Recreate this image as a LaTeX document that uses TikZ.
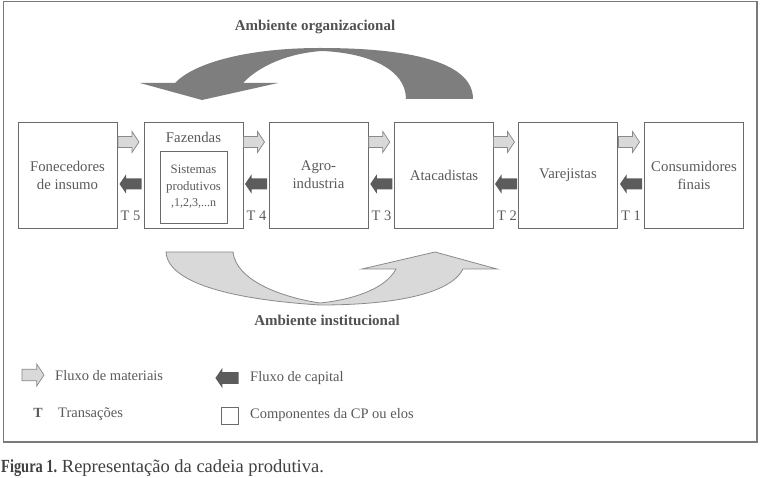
\documentclass[tikz,border=0pt]{standalone}
\usepackage{fontspec}
\setmainfont{Liberation Serif}
\usetikzlibrary{calc}
\definecolor{txt}{HTML}{5A5A5A}
\definecolor{boxline}{HTML}{6A6A6A}
\definecolor{lightfill}{HTML}{D9D9D9}
\definecolor{lightedge}{HTML}{8A8A8A}
\definecolor{darkfill}{HTML}{5C5C5C}
\definecolor{bigdark}{HTML}{7E7E7E}
\definecolor{frameline}{HTML}{7A7A7A}
\tikzset{
  elo/.style={draw=boxline, line width=0.9pt, minimum width=99pt, minimum height=106pt,
    inner sep=0pt, align=center, text=txt, font=\fontsize{14.8}{18}\selectfont},
  innerbox/.style={draw=boxline, line width=0.9pt, minimum width=67pt, minimum height=72pt,
    inner sep=0pt, align=center, text=txt, font=\fontsize{12.8}{16.5}\selectfont},
  plain/.style={inner sep=0pt, text=txt, font=\fontsize{14.8}{18}\selectfont},
  tlabel/.style={inner sep=0pt, text=txt, font=\fontsize{14.5}{18}\selectfont},
  titlelab/.style={inner sep=0pt, text=txt!90!black, font=\bfseries\fontsize{15}{18}\selectfont},
  legendtext/.style={inner sep=0pt, anchor=west, text=txt, font=\fontsize{14.5}{18}\selectfont},
  matarrow/.pic={\draw[fill=lightfill, draw=lightedge, line width=0.7pt]
    (-10.5,-5.5) -- (3.5,-5.5) -- (3.5,-10.5) -- (10.5,0) -- (3.5,10.5) -- (3.5,5.5) -- (-10.5,5.5) -- cycle;},
  capitalarrow/.pic={\fill[darkfill]
    (11,-5.5) -- (-4.5,-5.5) -- (-4.5,-9.5) -- (-11,0) -- (-4.5,9.5) -- (-4.5,5.5) -- (11,5.5) -- cycle;}
}
\begin{document}
\begin{tikzpicture}[x=1pt,y=-1pt]
\useasboundingbox (0,0) rectangle (764,478);
% outer frame
\draw[frameline, line width=1.4pt] (3.5,1.5) rectangle (757,442);

% titles
\node[titlelab] (torg) at (315,27) {Ambiente organizacional};
\node[titlelab] (tinst) at (327,320) {Ambiente institucional};

% big top arrow (organizational environment)
\fill[bigdark] (473,99)
  .. controls (473,65) and (420,48) .. (320,48)
  .. controls (250,48) and (195,62) .. (175,83)
  -- (140,83) -- (202,100) -- (278,83) -- (243,83)
  .. controls (260,65) and (290,53) .. (322,51)
  .. controls (370,53) and (406,70) .. (406,99) -- cycle;

% big bottom arrow (institutional environment)
\draw[fill=lightfill, draw=lightedge, line width=0.8pt] (166,252) -- (233,252)
  .. controls (236,280) and (280,297) .. (320,303)
  .. controls (350,300) and (385,290) .. (396,269)
  -- (362,269) -- (435,252) -- (497,269) -- (463,269)
  .. controls (450,295) and (390,305) .. (320,305)
  .. controls (240,300) and (168,285) .. (166,252) -- cycle;

% chain components
\node[elo] (b1) at (67.5,175) {Fonecedores\\de insumo};
\node[elo] (b2) at (193.5,175) {};
\node[plain] (faz) at (193.5,137) {Fazendas};
\node[innerbox] (sp) at (193.5,187) {Sistemas\\produtivos\\{\fontsize{12}{16.5}\selectfont ,1,2,3,...n}};
\node[elo] (b3) at (318.5,175) {Agro-\\industria};
\node[elo] (b4) at (444,175) {Atacadistas};
\node[elo] (b5) at (568,175) {Varejistas};
\node[elo] (b6) at (694,175) {Consumidores\\finais};

% flows between components
\foreach \l/\r/\t in {b1/b2/5, b2/b3/4, b3/b4/3, b4/b5/2, b5/b6/1}{
  \pic at ($(\l.east)!0.5!(\r.west)+(-2,-33)$) {matarrow};
  \pic at ($(\l.east)!0.5!(\r.west)+(0,9)$) {capitalarrow};
  \node[tlabel, anchor=base west] (t\t) at ($(\l.east)+(3,46)$) {T \t};
}

% legend
\pic[scale=1.05] at (33,375) {matarrow};
\node[legendtext] (lmat) at (55,376) {Fluxo de materiais};
\pic[scale=1.05] at (227,378) {capitalarrow};
\node[legendtext] (lcap) at (250,378) {Fluxo de capital};
\node[inner sep=0pt, text=txt, font=\bfseries\fontsize{14}{18}\selectfont] (lt) at (38,413) {T};
\node[legendtext] (ltr) at (58,414) {Transações};
\node[draw=boxline, line width=0.9pt, minimum width=17pt, minimum height=17pt, inner sep=0pt] (lsq) at (229.5,415.5) {};
\node[legendtext] (lcomp) at (250,415) {Componentes da CP ou elos};

% caption
\node[anchor=base west, inner sep=0pt, text=black!75, font=\fontsize{18.5}{20}\selectfont] (cap) at (1,472.5)
  {\scalebox{0.78}[1]{\textbf{Figura 1.}} Representação da cadeia produtiva.};
\end{tikzpicture}
\end{document}
